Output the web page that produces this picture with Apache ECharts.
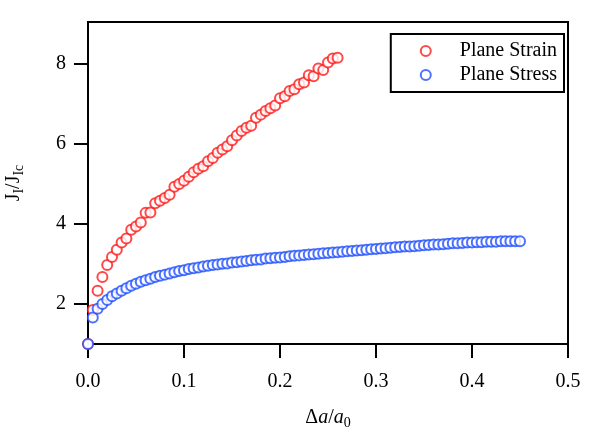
<!DOCTYPE html>
<html>
<head>
<meta charset="utf-8">
<script src="https://cdn.jsdelivr.net/npm/echarts@6/dist/echarts.min.js"></script>
<style>
  html, body { margin: 0; padding: 0; background: #fff; }
  #chart { width: 613px; height: 434px; }
</style>
</head>
<body>
<div id="chart"></div>
<script>
// crack extension (da/a0) and J ratio
var strainX = [0.000, 0.005, 0.010, 0.015, 0.020, 0.025, 0.030, 0.035, 0.040, 0.045,
               0.050, 0.055, 0.060, 0.065, 0.070, 0.075, 0.080, 0.085, 0.090, 0.095,
               0.100, 0.105, 0.110, 0.115, 0.120, 0.125, 0.130, 0.135, 0.140, 0.145,
               0.150, 0.155, 0.160, 0.165, 0.170, 0.175, 0.180, 0.185, 0.190, 0.195,
               0.200, 0.205, 0.210, 0.215, 0.220, 0.225, 0.230, 0.235, 0.240, 0.245,
               0.250, 0.255, 0.260];
var strainY = [1.00, 1.85, 2.33, 2.67, 2.97, 3.17, 3.35, 3.53, 3.63, 3.85,
               3.93, 4.03, 4.27, 4.28, 4.51, 4.57, 4.64, 4.72, 4.92, 4.99,
               5.07, 5.17, 5.28, 5.37, 5.43, 5.56, 5.64, 5.77, 5.85, 5.93,
               6.08, 6.20, 6.31, 6.39, 6.44, 6.64, 6.72, 6.81, 6.88, 6.95,
               7.13, 7.18, 7.31, 7.35, 7.48, 7.52, 7.70, 7.68, 7.87, 7.83,
               8.02, 8.12, 8.14];

var stressX = [0.000, 0.005, 0.010, 0.015, 0.020, 0.025, 0.030, 0.035, 0.040, 0.045,
               0.050, 0.055, 0.060, 0.065, 0.070, 0.075, 0.080, 0.085, 0.090, 0.095,
               0.100, 0.105, 0.110, 0.115, 0.120, 0.125, 0.130, 0.135, 0.140, 0.145,
               0.150, 0.155, 0.160, 0.165, 0.170, 0.175, 0.180, 0.185, 0.190, 0.195,
               0.200, 0.205, 0.210, 0.215, 0.220, 0.225, 0.230, 0.235, 0.240, 0.245,
               0.250, 0.255, 0.260, 0.265, 0.270, 0.275, 0.280, 0.285, 0.290, 0.295,
               0.300, 0.305, 0.310, 0.315, 0.320, 0.325, 0.330, 0.335, 0.340, 0.345,
               0.350, 0.355, 0.360, 0.365, 0.370, 0.375, 0.380, 0.385, 0.390, 0.395,
               0.400, 0.405, 0.410, 0.415, 0.420, 0.425, 0.430, 0.435, 0.440, 0.445,
               0.450];
var stressY = [1.00, 1.66, 1.88, 2.00, 2.10, 2.19, 2.26, 2.33, 2.39, 2.45,
               2.50, 2.55, 2.59, 2.63, 2.67, 2.70, 2.73, 2.76, 2.79, 2.82,
               2.84, 2.87, 2.89, 2.91, 2.93, 2.95, 2.97, 2.98, 3.00, 3.01,
               3.03, 3.04, 3.06, 3.07, 3.09, 3.10, 3.11, 3.13, 3.14, 3.15,
               3.16, 3.17, 3.19, 3.20, 3.21, 3.22, 3.23, 3.24, 3.25, 3.26,
               3.27, 3.28, 3.29, 3.30, 3.31, 3.32, 3.33, 3.34, 3.35, 3.36,
               3.37, 3.38, 3.39, 3.40, 3.41, 3.42, 3.43, 3.43, 3.44, 3.45,
               3.46, 3.47, 3.48, 3.48, 3.49, 3.50, 3.51, 3.51, 3.52, 3.53,
               3.53, 3.54, 3.54, 3.55, 3.55, 3.55, 3.56, 3.56, 3.56, 3.56,
               3.56];

var xTicks = [0, 0.1, 0.2, 0.3, 0.4, 0.5];
var yTicks = [2, 4, 6, 8];

function pairs(xs, ys) {
    var out = [];
    for (var i = 0; i < xs.length; i++) out.push([xs[i], ys[i]]);
    return out;
}

var font = 'Liberation Serif';

var option = {
    animation: false,
    backgroundColor: '#fff',
    textStyle: { fontFamily: font, color: '#000' },
    grid: {
        left: 88, top: 22, right: 45, bottom: 90,
        containLabel: false,
        outerBoundsMode: 'none',
        show: true,
        borderColor: '#000',
        borderWidth: 2,
        backgroundColor: 'transparent'
    },
    legend: {
        orient: 'vertical',
        right: 49,
        top: 34,
        backgroundColor: '#fff',
        borderColor: '#000',
        borderWidth: 2,
        borderRadius: 0,
        padding: [7, 7, 7, 29],
        itemGap: 4,
        itemWidth: 10,
        itemHeight: 10,
        textStyle: { fontFamily: font, fontSize: 20, color: '#000', padding: [0, 0, 0, 24] },
        data: ['Plane Strain', 'Plane Stress']
    },
    xAxis: {
        type: 'value',
        min: 0, max: 0.5, interval: 0.1,
        name: 'Δ{i|a}/{i|a}{sub|0}',
        nameLocation: 'middle',
        nameGap: 62,
        nameTextStyle: {
            fontFamily: font, fontSize: 20, color: '#000',
            rich: {
                i: { fontFamily: font, fontSize: 20, fontStyle: 'italic' },
                sub: { fontFamily: font, fontSize: 14, padding: [10, 0, 0, 0] }
            }
        },
        axisLine: { lineStyle: { color: '#000', width: 2 } },
        axisTick: { inside: false, length: 14, lineStyle: { color: '#000', width: 2 },
                    customValues: xTicks },
        axisLabel: { fontFamily: font, fontSize: 20, color: '#000', margin: 28,
                     customValues: xTicks,
                     formatter: function (v) { return v.toFixed(1); } },
        splitLine: { show: false }
    },
    yAxis: {
        type: 'value',
        min: 1, max: 9.03,
        name: 'J{sub|I}/J{sub|Ic}',
        nameLocation: 'middle',
        nameGap: 62,
        nameRotate: 90,
        nameTextStyle: {
            fontFamily: font, fontSize: 20, color: '#000',
            rich: {
                sub: { fontFamily: font, fontSize: 14, padding: [10, 0, 0, 0] }
            }
        },
        axisLine: { lineStyle: { color: '#000', width: 2 } },
        axisTick: { inside: false, length: 14, lineStyle: { color: '#000', width: 2 },
                    customValues: yTicks },
        axisLabel: { fontFamily: font, fontSize: 20, color: '#000', margin: 22,
                     customValues: yTicks },
        splitLine: { show: false }
    },
    series: [
        {
            name: 'Plane Strain',
            type: 'scatter',
            symbol: 'emptyCircle',
            symbolSize: 10,
            itemStyle: { color: '#ff1a1a', borderColor: '#ff1a1a', borderWidth: 1 },
            data: pairs(strainX, strainY)
        },
        {
            name: 'Plane Stress',
            type: 'scatter',
            symbol: 'emptyCircle',
            symbolSize: 10,
            itemStyle: { color: '#1f4fff', borderColor: '#1f4fff', borderWidth: 1 },
            data: pairs(stressX, stressY)
        }
    ]
};

var myChart = echarts.init(document.getElementById('chart'));
myChart.setOption(option);
</script>
</body>
</html>
